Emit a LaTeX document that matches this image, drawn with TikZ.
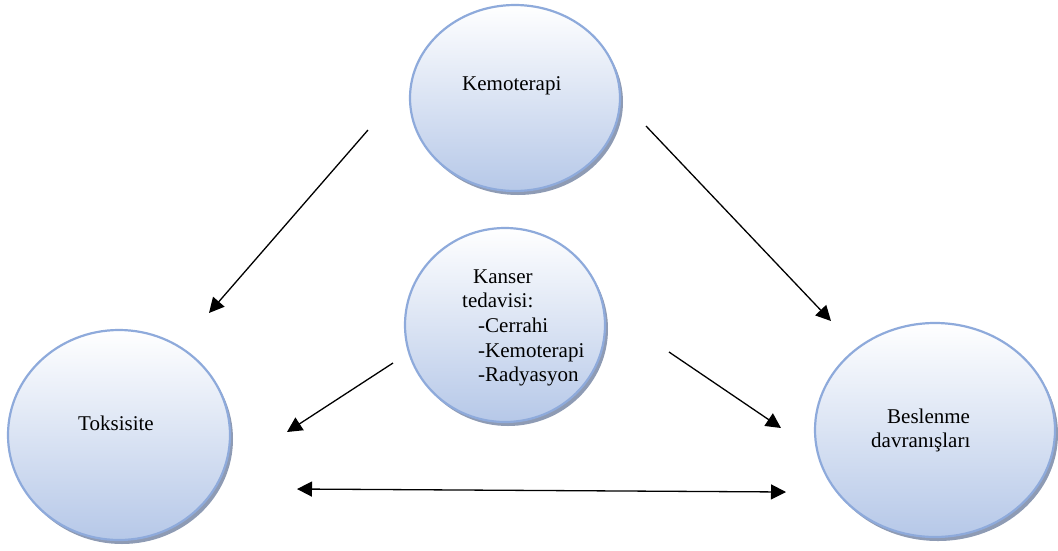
\documentclass[tikz,border=0pt]{standalone}
\usepackage{fontspec}
\setmainfont{Liberation Serif}
\usetikzlibrary{shapes.geometric,shadows,arrows.meta}
\definecolor{rim}{HTML}{8EAADB}
\definecolor{fillbot}{HTML}{B6C8E8}
\definecolor{shade}{HTML}{8290AC}
\tikzset{
  bubble/.style={ellipse, draw=rim, line width=2.2pt, top color=white, bottom color=fillbot,
    drop shadow={shadow xshift=3pt, shadow yshift=-4pt, fill=shade, opacity=0.9}},
  lbl/.style={font=\fontsize{21}{25}\selectfont, inner sep=0pt, anchor=base west},
  conn/.style={line width=1.3pt, -{Triangle[length=15pt,width=15pt]}},
  conn2/.style={line width=1.3pt, {Triangle[length=15pt,width=15pt]}-{Triangle[length=15pt,width=15pt]}}
}
\begin{document}
\begin{tikzpicture}[x=1pt,y=-1pt]
\useasboundingbox (0,0) rectangle (1058,550);
% bubbles
\node[bubble, minimum width=210pt, minimum height=186pt] (kemo) at (515,98) {};
\node[bubble, minimum width=200pt, minimum height=194pt] (kanser) at (505,325) {};
\node[bubble, minimum width=222pt, minimum height=210pt] (toks) at (119,435) {};
\node[bubble, minimum width=240pt, minimum height=214pt] (besl) at (935,430) {};
% labels
\node[lbl] (tkemo) at (462,90) {Kemoterapi};
\node[lbl] (tk1) at (473,283) {Kanser};
\node[lbl] (tk2) at (462,307) {tedavisi:};
\node[lbl] (tk3) at (478,332) {-Cerrahi};
\node[lbl] (tk4) at (478,357) {-Kemoterapi};
\node[lbl] (tk5) at (478,381) {-Radyasyon};
\node[lbl] (ttoks) at (78,430) {Toksisite};
\node[lbl] (tb1) at (887,423) {Beslenme};
\node[lbl] (tb2) at (871,447) {davranışları};
% connector end points
\coordinate (a1) at (368,130); \coordinate (b1) at (209,313);
\coordinate (a2) at (646,126); \coordinate (b2) at (831,321);
\coordinate (a3) at (393,363); \coordinate (b3) at (287,432);
\coordinate (a4) at (669,352); \coordinate (b4) at (781,428);
\coordinate (a5) at (297,489); \coordinate (b5) at (786,492);
\draw[conn] (a1) -- (b1);
\draw[conn] (a2) -- (b2);
\draw[conn] (a3) -- (b3);
\draw[conn] (a4) -- (b4);
\draw[conn2] (a5) -- (b5);
\end{tikzpicture}
\end{document}
